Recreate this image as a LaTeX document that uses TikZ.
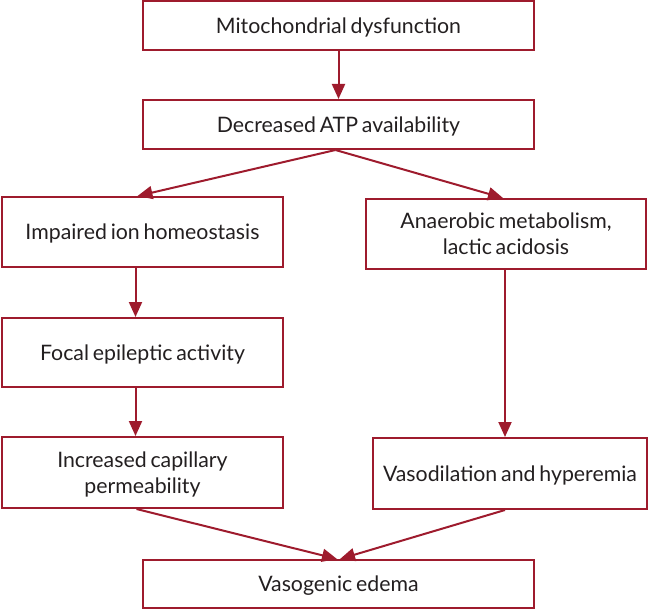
\documentclass[tikz,border=0pt]{standalone}
\usepackage{fontspec}
\setmainfont{Lato}
\usetikzlibrary{arrows.meta,calc}
\definecolor{dred}{RGB}{158,27,45}
\definecolor{txt}{RGB}{35,31,32}
\newcommand\tightspace{\spaceskip=0.18em plus 0.05em minus 0.05em\relax}
\begin{document}
\begin{tikzpicture}[x=1bp,y=-1bp,
  box/.style={draw=dred,line width=2bp,rectangle,inner sep=0pt,align=center,
    text=txt,font=\fontsize{21.3bp}{26bp}\selectfont,execute at begin node=\tightspace,
    text depth=0pt},
  arr/.style={draw=dred,line width=2bp,-{Triangle[length=15bp,width=13bp]}}]
\useasboundingbox (0,0) rectangle (654,610);
\node[box,minimum width=391bp,minimum height=49bp] (b1) at (338.5,25.5) {Mitochondrial dysfunction};
\node[box,minimum width=391bp,minimum height=49bp] (b2) at (338.5,124.5) {Decreased ATP availability};
\node[box,minimum width=281bp,minimum height=70bp] (b3) at (142.5,232) {Impaired ion homeostasis};
\node[box,minimum width=280bp,minimum height=70bp] (b4) at (506,234) {Anaerobic metabolism,\\lactic acidosis};
\node[box,minimum width=281bp,minimum height=69bp] (b5) at (142.5,352.5) {Focal epileptic activity};
\node[box,minimum width=281bp,minimum height=71bp] (b6) at (142.5,472.5) {Increased capillary\\permeability};
\node[box,minimum width=274bp,minimum height=71bp] (b7) at (510,473.5) {Vasodilation and hyperemia};
\node[box,minimum width=391bp,minimum height=48bp] (b8) at (338.5,584) {Vasogenic edema};
\draw[arr] (b1.south) -- (b2.north);
\draw[arr] ($(b2.south)+(-3,0)$) -- ($(b3.north)+(-5,0)$);
\draw[arr] ($(b2.south)+(-3,0)$) -- ($(b4.north)+(-3,0)$);
\draw[arr] ($(b3.south)+(-7,0)$) -- ($(b5.north)+(-7,0)$);
\draw[arr] ($(b5.south)+(-7,0)$) -- ($(b6.north)+(-7,0)$);
\draw[arr] ($(b4.south)+(-1,0)$) -- ($(b7.north)+(-5,0)$);
\draw[arr] ($(b6.south)+(-6,0)$) -- ($(b8.north)+(-1.5,0)$);
\draw[arr] ($(b7.south)+(-5,0)$) -- ($(b8.north)+(1.5,0)$);
\end{tikzpicture}
\end{document}
